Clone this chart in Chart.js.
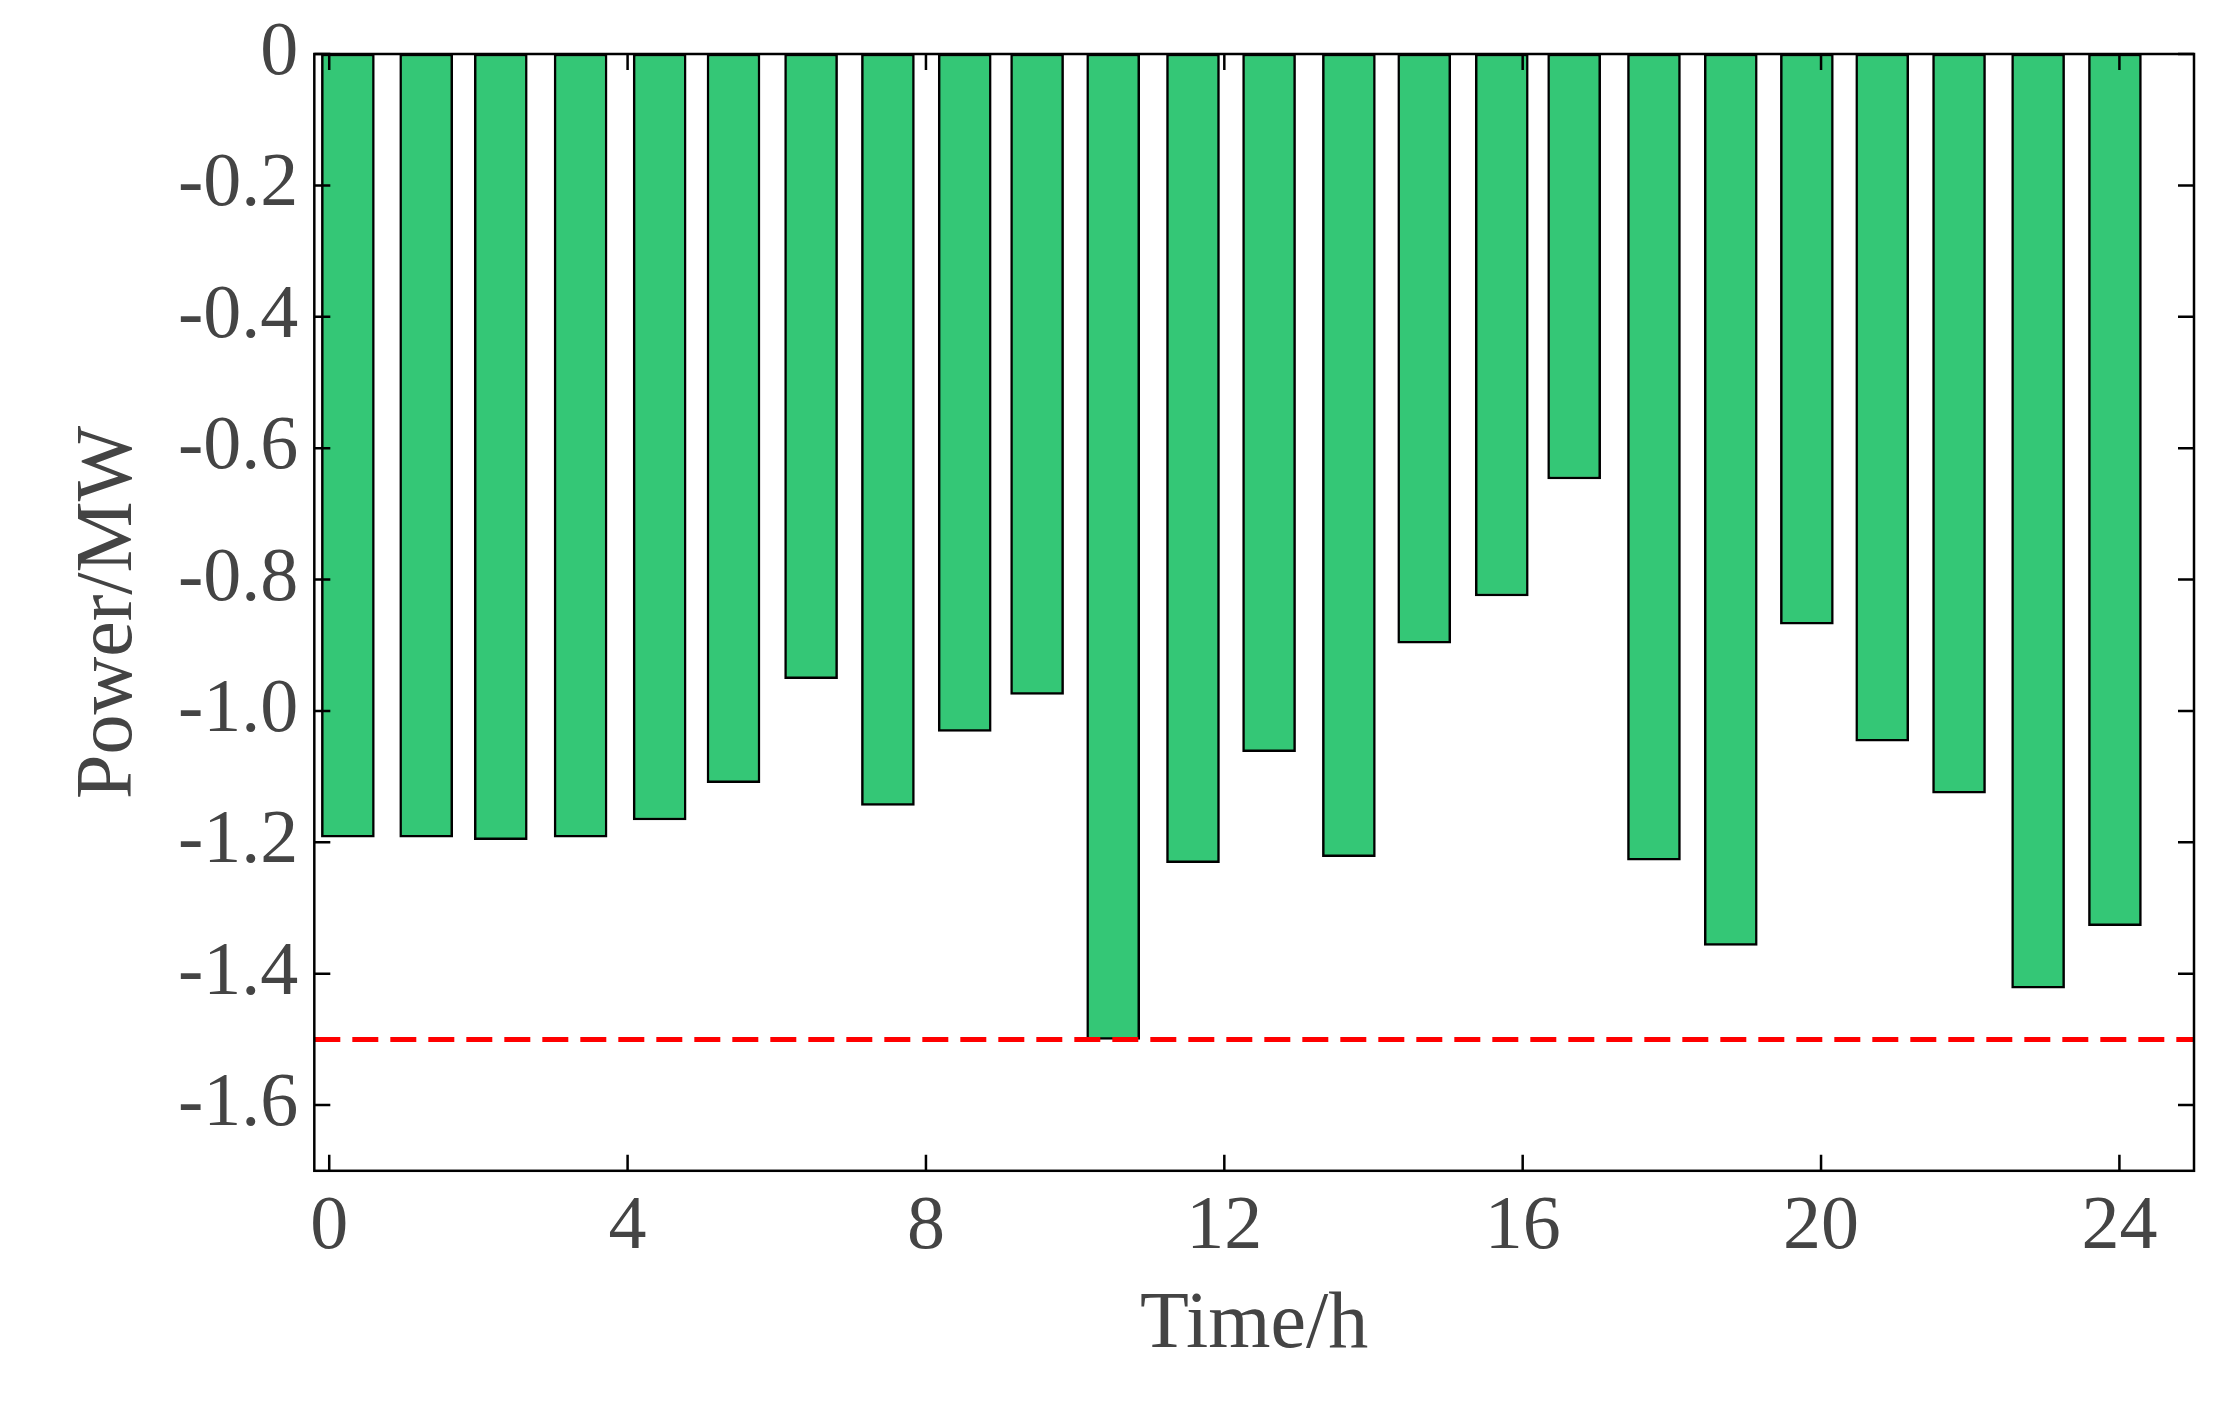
<!DOCTYPE html>
<html>
<head>
<meta charset="utf-8">
<script src="https://cdn.jsdelivr.net/npm/chart.js@4"></script>
<style>
  html, body { margin: 0; padding: 0; background: #fff; }
  #wrap { width: 2234px; height: 1404px; }
</style>
</head>
<body>
<div id="wrap"><canvas id="c"></canvas></div>
<script>
// bar positions (hours) and values (MW)
const hours = [0.25, 1.3, 2.3, 3.37, 4.43, 5.42, 6.46, 7.49, 8.52, 9.49, 10.51, 11.58, 12.6, 13.67, 14.68, 15.72, 16.69, 17.76, 18.79, 19.81, 20.82, 21.85, 22.91, 23.94];
const power = [-1.192, -1.192, -1.196, -1.192, -1.166, -1.109, -0.951, -1.144, -1.031, -0.975, -1.5, -1.231, -1.062, -1.222, -0.897, -0.825, -0.647, -1.227, -1.357, -0.868, -1.046, -1.125, -1.422, -1.327];
const limit = -1.5;
const xTicks = [0, 4, 8, 12, 16, 20, 24];
const yTicks = [0, -0.2, -0.4, -0.6, -0.8, -1.0, -1.2, -1.4, -1.6];

const font = "'Liberation Serif', 'Times New Roman', serif";
const textColor = "#444";

// MATLAB-like inward ticks and full box
const boxTicks = {
  id: "boxTicks",
  afterDraw(chart) {
    const { ctx, chartArea: a, scales } = chart;
    ctx.save();
    ctx.strokeStyle = "#000";
    ctx.lineWidth = 2.5;
    ctx.strokeRect(a.left, a.top, a.right - a.left, a.bottom - a.top);
    const len = 16;
    ctx.beginPath();
    xTicks.forEach((t) => {
      const x = scales.x.getPixelForValue(t);
      ctx.moveTo(x, a.bottom); ctx.lineTo(x, a.bottom - len);
      ctx.moveTo(x, a.top); ctx.lineTo(x, a.top + len);
    });
    yTicks.forEach((t) => {
      const y = scales.y.getPixelForValue(t);
      ctx.moveTo(a.left, y); ctx.lineTo(a.left + len, y);
      ctx.moveTo(a.right, y); ctx.lineTo(a.right - len, y);
    });
    ctx.stroke();
    ctx.restore();
  },
};

new Chart(document.getElementById("c"), {
  data: {
    datasets: [
      {
        type: "line",
        data: [{ x: -0.2, y: limit }, { x: 25, y: limit }],
        borderColor: "#ff0000",
        borderWidth: 5,
        borderDash: [26, 12],
        pointRadius: 0,
        order: 0,
      },
      {
        type: "bar",
        data: hours.map((h, i) => ({ x: h, y: power[i] })),
        backgroundColor: "#34c776",
        borderColor: "#000",
        borderWidth: 2.5,
        borderSkipped: false,
        barThickness: 53,
        order: 1,
      },
    ],
  },
  options: {
    responsive: true,
    maintainAspectRatio: false,
    animation: false,
    layout: { padding: { top: 54, right: 40, left: 50, bottom: 30 } },
    plugins: { legend: { display: false }, tooltip: { enabled: false } },
    scales: {
      x: {
        type: "linear",
        min: -0.2,
        max: 25,
        offset: false,
        afterBuildTicks: (s) => { s.ticks = xTicks.map((v) => ({ value: v })); },
        grid: { display: false, offset: false },
        border: { display: false },
        ticks: { font: { family: font, size: 76 }, color: textColor, padding: 4, maxRotation: 0 },
        title: { display: true, text: "Time/h", font: { family: font, size: 80 }, color: textColor, padding: 0 },
      },
      y: {
        min: -1.7,
        max: 0,
        afterBuildTicks: (s) => { s.ticks = yTicks.map((v) => ({ value: v })); },
        grid: { display: false },
        border: { display: false },
        ticks: {
          font: { family: font, size: 76 },
          color: textColor,
          padding: 8,
          callback: (v) => (v === 0 ? "0" : v.toFixed(1)),
        },
        title: { display: true, text: "Power/MW", font: { family: font, size: 80 }, color: textColor, padding: 12 },
      },
    },
  },
  plugins: [boxTicks],
});
</script>
</body>
</html>
